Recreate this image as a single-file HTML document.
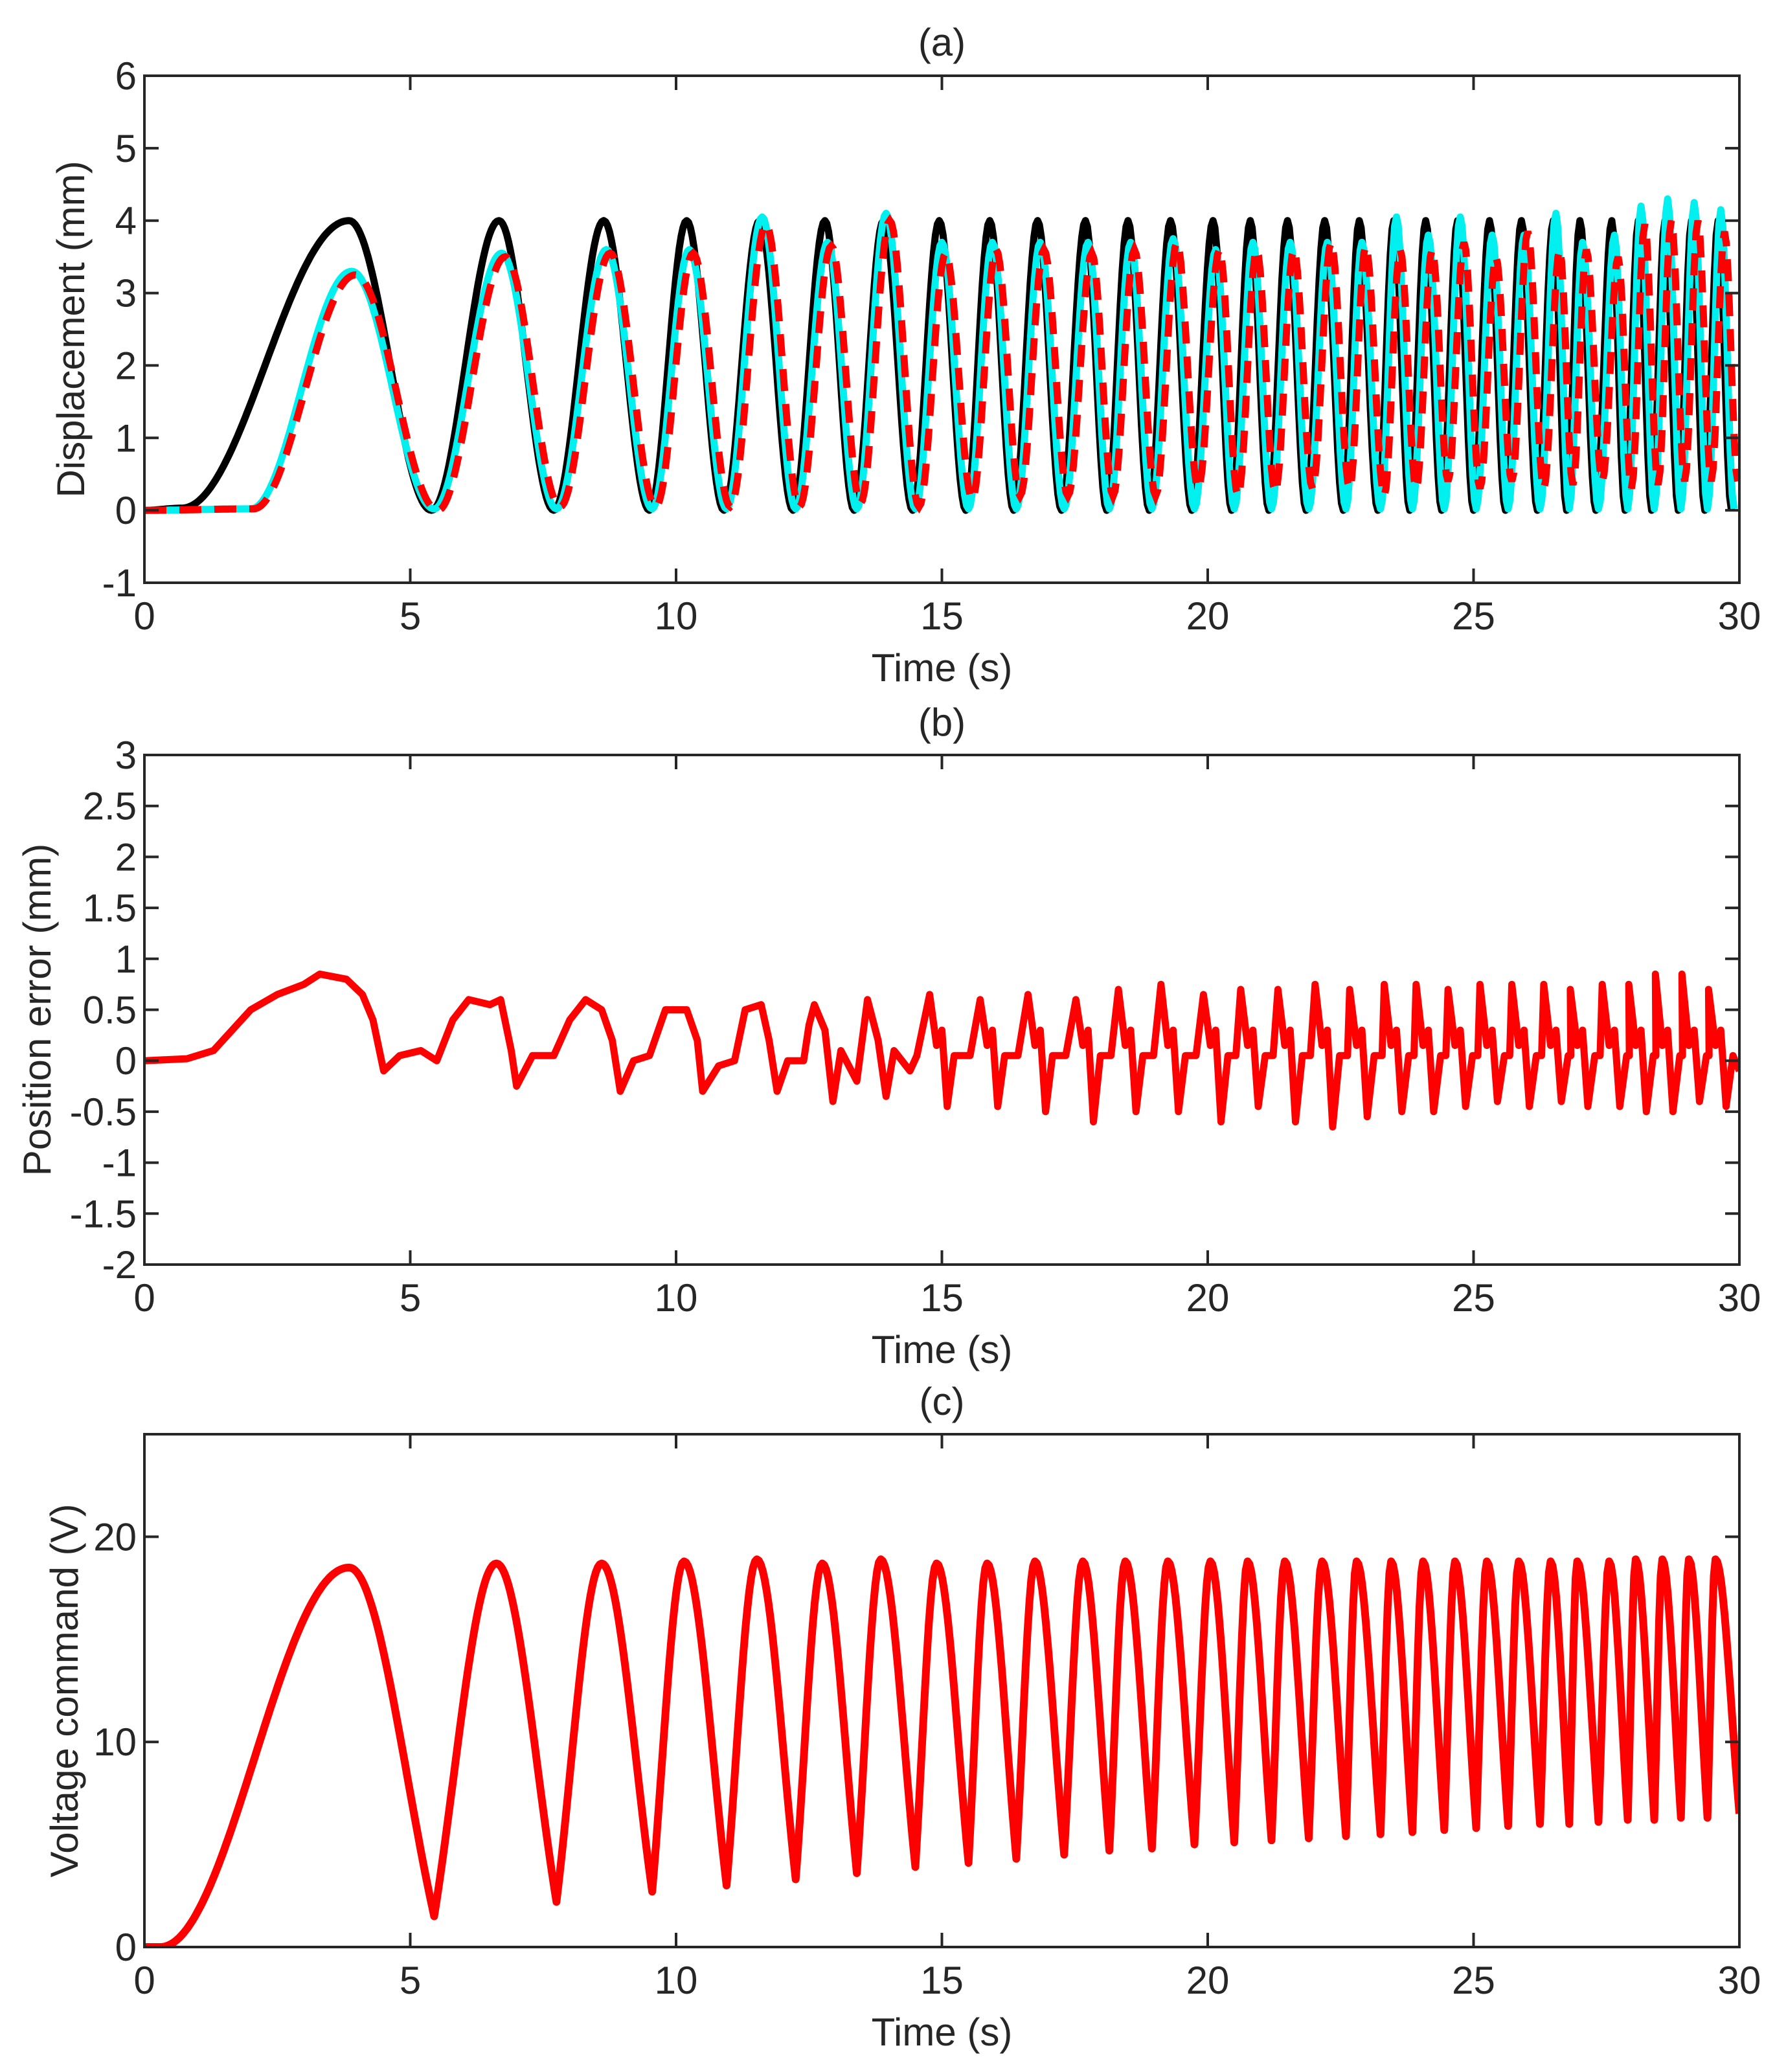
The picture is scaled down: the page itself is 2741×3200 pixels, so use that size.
<!DOCTYPE html>
<html><head><meta charset="utf-8"><style>
html,body{margin:0;padding:0;background:#fff;}
svg{display:block;font-family:"Liberation Sans",sans-serif;}
</style></head><body>
<svg id="fig" width="2741" height="3200" viewBox="0 0 2741 3200" xmlns="http://www.w3.org/2000/svg"></svg>
<script>
// ---- Data (time in s) ----
const refPeakT = [3.85,6.67,8.64,10.2,11.57,12.8,13.9,14.95,15.9,16.8,17.7,18.5,19.3,20.1,20.8,21.5,22.2,22.85,23.5,24.1,24.7,25.3,25.9,26.5,27.0,27.6,28.1,28.6,29.1,29.6];
const refTroughT = [5.4,7.7,9.5,10.9,12.2,13.35,14.45,15.45,16.35,17.25,18.1,18.9,19.7,20.45,21.15,21.85,22.55,23.2,23.8,24.4,25.0,25.6,26.2,26.75,27.3,27.85,28.35,28.85,29.35,29.85];
const refPeakV = [4,4,4,4,4,4,4,4,4,4,4,4,4,4,4,4,4,4,4,4,4,4,4,4,4,4,4,4,4,4];
const cyanPeakV = [3.3,3.55,3.6,3.6,4.05,3.7,4.1,3.7,3.7,3.7,3.7,3.7,3.75,3.6,3.7,3.7,3.7,3.7,4.05,3.8,4.05,3.8,3.8,4.1,3.7,3.8,4.2,4.3,4.25,4.15];
const redPeakV = [3.25,3.5,3.55,3.55,3.95,3.65,4.0,3.55,3.6,3.6,3.55,3.6,3.7,3.6,3.6,3.6,3.7,3.65,3.6,3.6,3.7,3.5,3.85,3.6,3.6,3.5,3.95,4.0,4.0,3.85];
const redTroughV = [0,0.05,0.05,0.05,0.05,0.1,0.05,0.15,0.2,0.2,0.2,0.2,0.3,0.2,0.25,0.3,0.3,0.2,0.3,0.4,0.3,0.4,0.3,0.35,0.4,0.3,0.35,0.4,0.4,0.4];
const errEarlyT = [0,0.8,1.3,2,2.5,3,3.3,3.8,4.1,4.3,4.5,4.8,5.2,5.5,5.8,6.1,6.5,6.7,6.9,7.0,7.3,7.7,8.0,8.3,8.6,8.8,8.95,9.2,9.5,9.8,10.2,10.4,10.5,10.8,11.1,11.3,11.6,11.75,11.9,12.1,12.4,12.5,12.6,12.8,12.95,13.1,13.4,13.6,13.8,13.95,14.1,14.4];
const errEarlyV = [0,0.02,0.1,0.5,0.65,0.75,0.85,0.8,0.65,0.4,-0.1,0.05,0.1,0,0.4,0.6,0.55,0.6,0.1,-0.25,0.05,0.05,0.4,0.6,0.5,0.2,-0.3,0,0.05,0.5,0.5,0.2,-0.3,-0.05,0,0.5,0.55,0.2,-0.3,0,0,0.35,0.55,0.3,-0.4,0.1,-0.2,0.6,0.2,-0.35,0.1,-0.1];
const errPeakV = [0.65,0.6,0.65,0.6,0.7,0.75,0.65,0.7,0.7,0.75,0.7,0.75,0.75,0.7,0.75,0.75,0.75,0.7,0.75,0.75,0.85,0.85,0.7];
const errTroughV = [-0.45,-0.45,-0.5,-0.6,-0.5,-0.5,-0.6,-0.45,-0.6,-0.65,-0.55,-0.5,-0.5,-0.45,-0.4,-0.45,-0.4,-0.45,-0.45,-0.5,-0.5,-0.4,-0.45];
const voltPeakT = [3.85,6.62,8.6,10.15,11.52,12.75,13.85,14.9,15.85,16.75,17.65,18.45,19.25,20.05,20.75,21.45,22.15,22.8,23.45,24.05,24.65,25.25,25.85,26.45,26.95,27.55,28.05,28.55,29.05,29.55];
const voltPeakV = [18.5,18.7,18.7,18.8,18.9,18.7,18.9,18.7,18.7,18.8,18.8,18.8,18.8,18.8,18.8,18.8,18.8,18.8,18.8,18.8,18.8,18.8,18.8,18.8,18.8,18.8,18.9,18.9,18.9,18.9];
const voltTroughT = [5.45,7.75,9.55,10.95,12.25,13.4,14.5,15.5,16.4,17.3,18.15,18.95,19.75,20.5,21.2,21.9,22.6,23.25,23.85,24.45,25.05,25.65,26.25,26.8,27.35,27.9,28.4,28.9,29.4,30.0];
const voltTroughV = [1.5,2.2,2.7,3.0,3.3,3.6,3.9,4.1,4.3,4.5,4.7,4.8,5.0,5.1,5.2,5.3,5.4,5.5,5.6,5.7,5.8,5.9,6.0,6.0,6.1,6.2,6.2,6.3,6.3,6.5];
const xTicks = [0,5,10,15,20,25,30];
const yTicksA = [-1,0,1,2,3,4,5,6];
const yTicksB = [-2,-1.5,-1,-0.5,0,0.5,1,1.5,2,2.5,3];
const yTicksC = [0,10,20];

// ---- Layout ----
const L = 223, R = 2686;
const panels = [
  {top:117, bot:900, ymin:-1, ymax:6},
  {top:1166, bot:1953, ymin:-2, ymax:3},
  {top:2215, bot:3007, ymin:0, ymax:25}
];
const NS = "http://www.w3.org/2000/svg";
const svg = document.getElementById('fig');
function X(t){ return L + (t/30)*(R-L); }
function Yf(p){ return v => p.bot - (v-p.ymin)/(p.ymax-p.ymin)*(p.bot-p.top); }
function mk(tag, attrs, parent){ const e=document.createElementNS(NS,tag); for(const k in attrs) e.setAttribute(k,attrs[k]); (parent||svg).appendChild(e); return e; }
function txt(s, x, y, anchor, parent, rot){
  const e = mk('text',{x:x,y:y,'font-size':60,'text-anchor':anchor,fill:'#262626'},parent);
  if(rot) e.setAttribute('transform','rotate(-90 '+x+' '+y+')');
  e.textContent = s; return e;
}
function extremaPath(pts, Y, sharp){
  let d = 'M'+X(pts[0][0]).toFixed(1)+','+Y(pts[0][1]).toFixed(1);
  for(let i=1;i<pts.length;i++){
    const [t0,v0]=pts[i-1],[t1,v1]=pts[i];
    const n = Math.max(4, Math.ceil((X(t1)-X(t0))/3));
    for(let k=1;k<=n;k++){
      const s=k/n, t=t0+(t1-t0)*s;
      let f=(1-Math.cos(Math.PI*s))/2;
      if(sharp && i>2){
        if(v1<v0) f=(1-Math.cos(Math.PI*s/2))*0.7+f*0.3;
        else f=Math.sin(Math.PI*s/2)*0.7+f*0.3;
      }
      const v=v0+(v1-v0)*f;
      d+=' L'+X(t).toFixed(1)+','+Y(v).toFixed(1);
    }
  }
  return d;
}
function linePath(pts, Y){
  return pts.map((p,i)=>(i?'L':'M')+X(p[0]).toFixed(1)+','+Y(p[1]).toFixed(1)).join(' ');
}

const titles = ['(a)','(b)','(c)'];
const titleY = [65,1115,2164];
const ylabels = ['Displacement (mm)','Position error (mm)','Voltage command (V)'];
const ylabX = [130,78,120];
const yTickSets = [yTicksA,yTicksB,yTicksC];

panels.forEach((p,pi)=>{
  const Y = Yf(p);
  const g = mk('g',{});
  
  
  const cp = mk('clipPath',{id:'clip'+pi},g);
  mk('rect',{x:L,y:p.top,width:R-L,height:p.bot-p.top},cp);
  const plot = mk('g',{'clip-path':'url(#clip'+pi+')'},g);
  
  

  if(pi===0){
    const bl=[[0,0],[0.7,0.03]], cy=[[0,0],[2.0,0.02]], rd=[[0,0],[2.05,0.02]];
    for(let i=0;i<refPeakT.length;i++){
      bl.push([refPeakT[i],refPeakV[i]]); bl.push([refTroughT[i],0]);
      cy.push([refPeakT[i]+0.05,cyanPeakV[i]]); cy.push([refTroughT[i]+0.05,0.02]);
      rd.push([refPeakT[i]+0.12,redPeakV[i]]); rd.push([refTroughT[i]+0.12,redTroughV[i]]);
    }
    const a=mk('path',{d:extremaPath(bl,Y),fill:'none',stroke:'#000','stroke-width':11,'stroke-linejoin':'round'},plot);
     
    const b=mk('path',{d:extremaPath(cy,Y),fill:'none',stroke:'#00f0f0','stroke-width':11,'stroke-linejoin':'round'},plot);
     
    const c=mk('path',{d:extremaPath(rd,Y),fill:'none',stroke:'#ff0000','stroke-width':11,'stroke-dasharray':'34 20'},plot);
     
  } else if(pi===1){
    const pts = errEarlyT.map((t,i)=>[t,errEarlyV[i]]);
    for(let i=0;i<errPeakV.length;i++){
      const pk = refPeakT[7+i]; const tr = refTroughT[6+i];
      if(pk===undefined) break;
      pts.push([tr+0.08,0.05]); pts.push([pk-0.18,errPeakV[i]]); pts.push([pk-0.05,0.15]);
      pts.push([pk+0.05,0.3]); pts.push([pk+0.15,errTroughV[i]]); pts.push([pk+0.28,0.05]);
    }
    pts.push([30,-0.1]);
    const e=mk('path',{d:linePath(pts,Y),fill:'none',stroke:'#ff0000','stroke-width':11,'stroke-linejoin':'round'},plot);
     
  } else {
    const pts=[[0,0],[0.3,0]];
    for(let i=0;i<voltPeakT.length;i++){ pts.push([voltPeakT[i],voltPeakV[i]]); pts.push([voltTroughT[i],voltTroughV[i]]); }
    const v=mk('path',{d:extremaPath(pts,Y,true),fill:'none',stroke:'#ff0000','stroke-width':12,'stroke-linejoin':'round'},plot);
     
  }

  const box=mk('rect',{x:L,y:p.top,width:R-L,height:p.bot-p.top,fill:'none',stroke:'#262626','stroke-width':4},g);
   
  xTicks.forEach(t=>{
    mk('line',{x1:X(t),x2:X(t),y1:p.bot,y2:p.bot-22,stroke:'#262626','stroke-width':4},g);
    mk('line',{x1:X(t),x2:X(t),y1:p.top,y2:p.top+22,stroke:'#262626','stroke-width':4},g);
    const tl=txt(String(t),X(t),p.bot+72,'middle',g);
     
  });
  yTickSets[pi].forEach(v=>{
    mk('line',{x1:L,x2:L+22,y1:Y(v),y2:Y(v),stroke:'#262626','stroke-width':4},g);
    mk('line',{x1:R,x2:R-22,y1:Y(v),y2:Y(v),stroke:'#262626','stroke-width':4},g);
    const tl=txt(String(v),L-12,Y(v)+21,'end',g);
     
  });
  const ti=txt(titles[pi],(L+R)/2,titleY[pi]+21,'middle',g);
   
  const xl=txt('Time (s)',(L+R)/2,p.bot+152,'middle',g);
   
  const yl=txt(ylabels[pi],ylabX[pi],(p.top+p.bot)/2,'middle',g,true);
   
});
</script>
</body></html>
